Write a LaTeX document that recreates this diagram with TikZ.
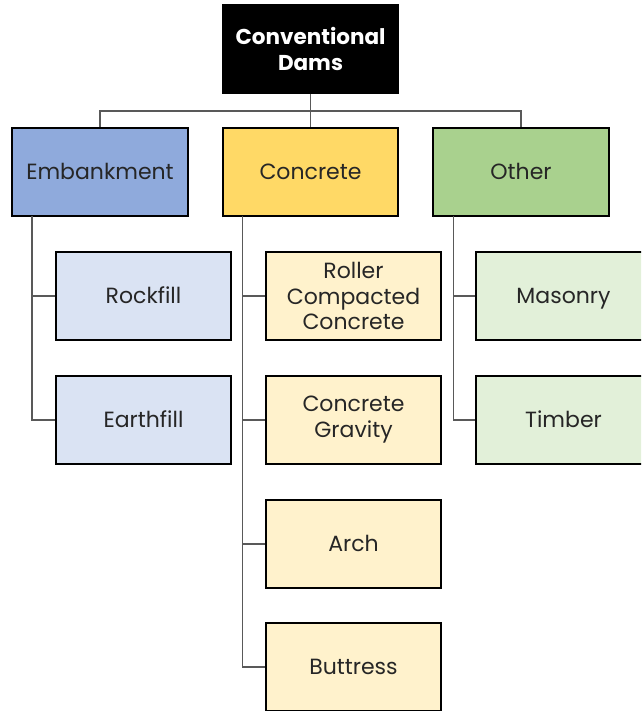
\documentclass[tikz,border=0pt]{standalone}
\usepackage{fontspec}
\setmainfont{Poppins}
\begin{document}
\begin{tikzpicture}[x=1pt,y=-1pt,
  box/.style={draw=black,line width=2pt,minimum width=175pt,minimum height=88pt,
    align=center,inner sep=0pt,font=\fontsize{22}{26}\selectfont,text=black!85},
  oneline/.style={text height=17pt,text depth=1.6pt},
  rootbox/.style={box,fill=black,text=white,font=\fontsize{21.5}{26}\selectfont\bfseries},
  link/.style={draw=black!65,line width=1.4pt}]
\useasboundingbox (0,0) rectangle (641,711);
\clip (0,0) rectangle (641,711);
\definecolor{embA}{HTML}{8FAADC}\definecolor{embB}{HTML}{DAE3F3}
\definecolor{conA}{HTML}{FFD966}\definecolor{conB}{HTML}{FFF2CC}
\definecolor{othA}{HTML}{A9D18E}\definecolor{othB}{HTML}{E2F0D9}

% top of the tree
\node[rootbox] (root) at (310.5,49) {Conventional\\Dams};

% main groups
\node[box,oneline,fill=embA,minimum width=176pt] (emb) at (100,172) {Embankment};
\node[box,oneline,fill=conA] (con) at (310.5,172) {Concrete};
\node[box,oneline,fill=othA,minimum width=176pt] (oth) at (521,172) {Other};

% sub-types
\node[box,oneline,fill=embB] (rock)  at (143.5,296) {Rockfill};
\node[box,oneline,fill=embB] (earth) at (143.5,420) {Earthfill};
\node[box,fill=conB,font=\fontsize{22}{25.5}\selectfont] (rcc) at (353.5,296) {Roller\\Compacted\\Concrete};
\node[box,fill=conB] (grav) at (353.5,420) {Concrete\\Gravity};
\node[box,oneline,fill=conB] (arch) at (353.5,544) {Arch};
\node[box,oneline,fill=conB] (butt) at (353.5,667) {Buttress};
\node[box,oneline,fill=othB] (mas) at (563.5,296) {Masonry};
\node[box,oneline,fill=othB] (tim) at (563.5,420) {Timber};

% connectors
\coordinate (bus) at (310.5,111);
\draw[link] (root.south) -- (bus);
\draw[link] (emb.north) |- (bus) -| (oth.north);
\draw[link] (bus) -- (con.north);

\coordinate (t1) at (32,216);
\coordinate (t2) at (242.5,216);
\coordinate (t3) at (453.5,216);
\draw[link] (t1) |- (rock.west);
\draw[link] (t1) |- (earth.west);
\draw[link] (t2) |- (rcc.west);
\draw[link] (t2) |- (grav.west);
\draw[link] (t2) |- (arch.west);
\draw[link] (t2) |- (butt.west);
\draw[link] (t3) |- (mas.west);
\draw[link] (t3) |- (tim.west);
\end{tikzpicture}
\end{document}
